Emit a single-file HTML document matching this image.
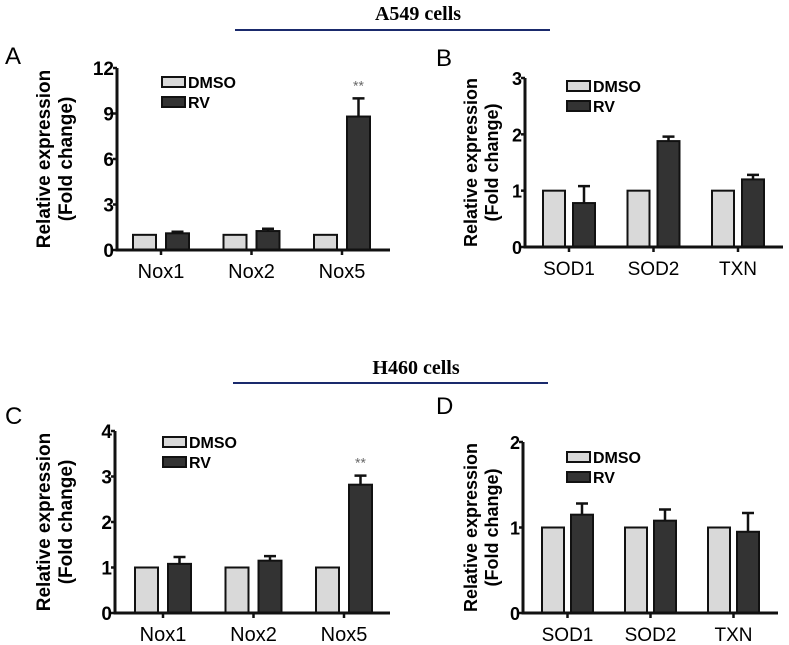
<!DOCTYPE html>
<html><head><meta charset="utf-8"><style>
body{margin:0;background:#fff;width:789px;height:645px;overflow:hidden}
svg{display:block;font-family:"Liberation Sans",Arial,sans-serif}
</style></head><body>
<svg id="fig" width="789" height="645">
<text x="418" y="20" text-anchor="middle" font-family="Liberation Serif" font-weight="bold" font-size="20">A549 cells</text>
<line x1="235" y1="30" x2="550" y2="30" stroke="#1a2a6c" stroke-width="2"/>
<text x="416" y="374" text-anchor="middle" font-family="Liberation Serif" font-weight="bold" font-size="20">H460 cells</text>
<line x1="233" y1="383" x2="548" y2="383" stroke="#1a2a6c" stroke-width="2"/>
<text x="5" y="64" font-size="24">A</text>
<text x="436" y="66" font-size="24">B</text>
<text x="5" y="424" font-size="24">C</text>
<text x="436" y="414" font-size="24">D</text>
</svg>
<script>
const catsNox=["Nox1","Nox2","Nox5"];
const catsSod=["SOD1","SOD2","TXN"];
const dmsoA=[1,1,1];
const rvA=[1.1,1.25,8.8];
const errA=[0.1,0.15,1.2];
const ticksA=[0,3,6,9,12];
const dmsoB=[1,1,1];
const rvB=[0.78,1.88,1.2];
const errB=[0.3,0.08,0.08];
const ticksB=[0,1,2,3];
const dmsoC=[1,1,1];
const rvC=[1.08,1.15,2.82];
const errC=[0.15,0.1,0.2];
const ticksC=[0,1,2,3,4];
const dmsoD=[1,1,1];
const rvD=[1.15,1.08,0.95];
const errD=[0.13,0.13,0.22];
const ticksD=[0,1,2];
const starsA=[false,false,true];
const starsC=[false,false,true];

const svg=document.getElementById('fig');
const NS='http://www.w3.org/2000/svg';
function mk(tag,attrs,parent){const e=document.createElementNS(NS,tag);for(const k in attrs)e.setAttribute(k,attrs[k]);(parent||svg).appendChild(e);return e;}

function panel(id,cfg){
  const g=mk('g',{});
  
  
  const max=cfg.ticks[cfg.ticks.length-1];
  const y=v=>cfg.y0-(v/max)*(cfg.y0-cfg.yTop);
  const gx=i=>cfg.ax+cfg.off+i*cfg.gap;
  cfg.cats.forEach((c,i)=>{
    const x1=gx(i), x2=gx(i)+cfg.bw+cfg.inner;
    const b1=mk('rect',{x:x1,y:y(cfg.dmso[i]),width:cfg.bw,height:cfg.y0-y(cfg.dmso[i]),fill:'#d9d9d9',stroke:'#111','stroke-width':2},g);
    
    
    const top=y(cfg.rv[i]+cfg.err[i]);
    const e=mk('path',{d:`M${x2+cfg.bw/2},${y(cfg.rv[i])} V${top} M${x2+cfg.bw/2-6},${top} H${x2+cfg.bw/2+6}`,stroke:'#111','stroke-width':2.5,fill:'none'},g);
    
    
    const b2=mk('rect',{x:x2,y:y(cfg.rv[i]),width:cfg.bw,height:cfg.y0-y(cfg.rv[i]),fill:'#333',stroke:'#111','stroke-width':2},g);
    
    
    if(cfg.stars&&cfg.stars[i]){
      const s=mk('text',{x:x2+cfg.bw/2,y:top-8,'text-anchor':'middle','font-size':14,fill:'#666'},g);
      s.textContent='**';
      
      
    }
    const cx=(x1+x2+cfg.bw)/2;
    const t=mk('line',{x1:cx,y1:cfg.y0,x2:cx,y2:cfg.y0+5,stroke:'#111','stroke-width':2.5},g);
    
    
    const l=mk('text',{x:cx,y:cfg.y0+28,'text-anchor':'middle','font-size':cfg.xfs},g);
    l.textContent=c;
    
    
  });
  const ax=mk('path',{d:`M${cfg.ax},${cfg.yTop} V${cfg.y0} H${cfg.xEnd}`,stroke:'#111','stroke-width':3,fill:'none'},g);
  
  
  cfg.ticks.forEach(v=>{
    const tk=mk('line',{x1:cfg.ax-4,y1:y(v),x2:cfg.ax,y2:y(v),stroke:'#111','stroke-width':2.5},g);
    
    
    const tl=mk('text',{x:cfg.ax-3,y:y(v)+7,'text-anchor':'end','font-size':cfg.tfs,'font-weight':'bold'},g);
    tl.textContent=v;
    
    
  });
  const cy=(cfg.yTop+cfg.y0)/2;
  const t1=mk('text',{x:cfg.tx1,y:cy,'text-anchor':'middle','font-size':cfg.yfs,'font-weight':'bold',transform:`rotate(-90 ${cfg.tx1} ${cy})`},g);
  t1.textContent='Relative expression';
  
  
  const t2=mk('text',{x:cfg.tx1+cfg.yfs+3,y:cy,'text-anchor':'middle','font-size':cfg.yfs,'font-weight':'bold',transform:`rotate(-90 ${cfg.tx1+cfg.yfs+3} ${cy})`},g);
  t2.textContent='(Fold change)';
  
  
  [['DMSO','#d9d9d9',0],['RV','#333',20]].forEach(([n,f,dy])=>{
    const r=mk('rect',{x:cfg.lx,y:cfg.ly+dy,width:23,height:10,fill:f,stroke:'#111','stroke-width':2},g);
    
    
    const tx=mk('text',{x:cfg.lx+26,y:cfg.ly+dy+11,'font-size':16,'font-weight':'bold'},g);
    tx.textContent=n;
    
    
  });
}
panel('a',{cats:catsNox,dmso:dmsoA,rv:rvA,err:errA,ticks:ticksA,stars:starsA,ax:117,xEnd:390,y0:250,yTop:68,off:16,gap:90.5,bw:23,inner:10,lx:162,ly:77,tx1:50,yfs:19,tfs:19,xfs:20});
panel('b',{cats:catsSod,dmso:dmsoB,rv:rvB,err:errB,ticks:ticksB,ax:525,xEnd:783,y0:247,yTop:78,off:18,gap:84.5,bw:22,inner:8,lx:567,ly:81,tx1:477,yfs:18,tfs:18,xfs:19});
panel('c',{cats:catsNox,dmso:dmsoC,rv:rvC,err:errC,ticks:ticksC,stars:starsC,ax:115,xEnd:390,y0:613,yTop:431,off:20,gap:90.5,bw:23,inner:10,lx:163,ly:437,tx1:50,yfs:19,tfs:19,xfs:20});
panel('d',{cats:catsSod,dmso:dmsoD,rv:rvD,err:errD,ticks:ticksD,ax:523,xEnd:778,y0:613,yTop:442,off:19,gap:83,bw:22,inner:7,lx:567,ly:452,tx1:477,yfs:18,tfs:18,xfs:19});
</script>
</body></html>
